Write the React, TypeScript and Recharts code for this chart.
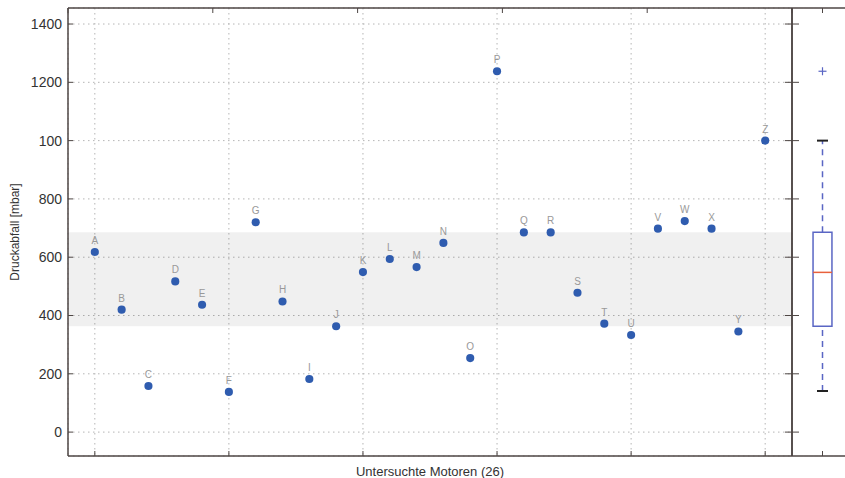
import React from 'react';
import {
  ComposedChart,
  Scatter,
  XAxis,
  YAxis,
  ZAxis,
  CartesianGrid,
  ReferenceArea,
  ReferenceLine,
  LabelList,
  Label,
} from 'recharts';

const motorNames = ['A', 'B', 'C', 'D', 'E', 'F', 'G', 'H', 'I', 'J', 'K', 'L', 'M', 'N', 'O', 'P', 'Q', 'R', 'S', 'T', 'U', 'V', 'W', 'X', 'Y', 'Z'];
const druckabfall = [618, 420, 158, 517, 437, 138, 720, 448, 182, 363, 549, 594, 566, 649, 254, 1238, 685, 685, 478, 372, 333, 698, 724, 698, 345, 1000];
const yTicks = [0, 200, 400, 600, 800, 1000, 1200, 1400];
const yTickLabels = ['0', '200', '400', '600', '800', '100', '1200', '1400'];
const xGridTicks = [0, 5, 10, 15, 20, 25];
const yDomain = [-82, 1455];
const xDomain = [-1, 26];

const bandLow = 363;
const bandHigh = 686;
const boxQ1 = 363;
const boxMedian = 548;
const boxQ3 = 686;
const whiskerLow = 141;
const whiskerHigh = 1000;
const boxOutliers = [1238];

const rows = motorNames.map((name, i) => ({ idx: i, value: druckabfall[i], name }));
const outlierRows = boxOutliers.map((v) => ({ bx: 1, by: v }));

const axisColor = '#4e4644';
const textColor = '#333333';
const pointColor = '#2f5caf';
const boxColor = '#5a66c4';
const font = '"Liberation Sans", Arial, sans-serif';

const fmtY = (v: number) => {
  const i = yTicks.indexOf(v);
  return i >= 0 ? yTickLabels[i] : String(v);
};
const blank = () => '';

const axisLineStyle = { stroke: axisColor, strokeWidth: 1.5 };
const tickLineStyle = { stroke: axisColor, strokeWidth: 1 };

export default function App() {
  return (
    <div style={{ position: 'absolute', left: 0, top: 0, width: 845, height: 478, overflow: 'hidden', background: '#fff', fontFamily: font }}>
      <div style={{ position: 'absolute', left: 0, top: 0 }}>
        <ComposedChart width={800} height={478} margin={{ top: 8, right: 8, bottom: 0, left: 0 }} data={rows}>
          <ReferenceArea y1={bandLow} y2={bandHigh} fill="#000" fillOpacity={0.06} stroke="none" ifOverflow="hidden" />
          <CartesianGrid stroke="#b5b5b5" strokeDasharray="1.5 3.5" strokeWidth={1} />
          <XAxis
            type="number"
            dataKey="idx"
            domain={xDomain}
            ticks={xGridTicks}
            allowDataOverflow
            height={22}
            tickSize={-5}
            tickFormatter={blank}
            axisLine={axisLineStyle}
            tickLine={tickLineStyle}
          >
            <Label value="Untersuchte Motoren (26)" position="insideBottom" offset={2} fill={textColor} fontSize={13} fontFamily={font} />
          </XAxis>
          <XAxis
            xAxisId="top"
            orientation="top"
            mirror
            type="number"
            domain={xDomain}
            ticks={xGridTicks}
            allowDataOverflow
            height={10}
            tickSize={5}
            tickFormatter={blank}
            axisLine={axisLineStyle}
            tickLine={tickLineStyle}
          />
          <YAxis
            type="number"
            dataKey="value"
            domain={yDomain}
            ticks={yTicks}
            allowDataOverflow
            width={68}
            tickSize={-5}
            tickMargin={11}
            tickFormatter={fmtY}
            tick={{ fill: textColor, fontSize: 14, fontFamily: font }}
            axisLine={axisLineStyle}
            tickLine={tickLineStyle}
          >
            <Label
              value="Druckabfall [mbar]"
              angle={-90}
              position="insideLeft"
              offset={15}
              fill={textColor}
              fontSize={12}
              fontFamily={font}
              style={{ textAnchor: 'middle' }}
            />
          </YAxis>
          <YAxis
            yAxisId="right"
            orientation="right"
            mirror
            type="number"
            domain={yDomain}
            ticks={yTicks}
            allowDataOverflow
            width={10}
            tickSize={7}
            tickFormatter={blank}
            axisLine={axisLineStyle}
            tickLine={tickLineStyle}
          />
          <ZAxis range={[52, 52]} />
          <Scatter data={rows} dataKey="value" fill={pointColor} isAnimationActive={false}>
            <LabelList dataKey="name" position="top" offset={4} fill="#999999" fontSize={10} fontFamily={font} />
          </Scatter>
        </ComposedChart>
      </div>
      <div style={{ position: 'absolute', left: 785, top: 0 }}>
        <ComposedChart width={68} height={478} margin={{ top: 8, right: 0, bottom: 0, left: 7 }} data={outlierRows}>
          <XAxis
            type="number"
            dataKey="bx"
            domain={[0, 2]}
            ticks={[1]}
            allowDataOverflow
            height={22}
            tickSize={-5}
            tickFormatter={blank}
            axisLine={axisLineStyle}
            tickLine={tickLineStyle}
          />
          <XAxis
            xAxisId="top"
            orientation="top"
            mirror
            type="number"
            domain={[0, 2]}
            ticks={[1]}
            allowDataOverflow
            height={10}
            tickSize={5}
            tickFormatter={blank}
            axisLine={axisLineStyle}
            tickLine={tickLineStyle}
          />
          <YAxis
            type="number"
            dataKey="by"
            mirror
            domain={yDomain}
            ticks={yTicks}
            allowDataOverflow
            width={10}
            tickSize={7}
            tickFormatter={blank}
            axisLine={axisLineStyle}
            tickLine={tickLineStyle}
          />
          <ReferenceLine
            segment={[{ x: 1, y: boxQ3 }, { x: 1, y: whiskerHigh }]}
            stroke={boxColor}
            strokeWidth={1.5}
            strokeDasharray="6 5"
          />
          <ReferenceLine
            segment={[{ x: 1, y: whiskerLow }, { x: 1, y: boxQ1 }]}
            stroke={boxColor}
            strokeWidth={1.5}
            strokeDasharray="6 5"
          />
          <ReferenceArea x1={0.69} x2={1.31} y1={boxQ1} y2={boxQ3} fill="#fff" fillOpacity={1} stroke={boxColor} strokeWidth={1.5} />
          <ReferenceLine segment={[{ x: 0.69, y: boxMedian }, { x: 1.31, y: boxMedian }]} stroke="#e8613c" strokeWidth={1.5} />
          <ReferenceLine segment={[{ x: 0.82, y: whiskerHigh }, { x: 1.18, y: whiskerHigh }]} stroke="#222" strokeWidth={2} />
          <ReferenceLine segment={[{ x: 0.82, y: whiskerLow }, { x: 1.18, y: whiskerLow }]} stroke="#222" strokeWidth={2} />
          <Scatter
            data={outlierRows}
            dataKey="by"
            isAnimationActive={false}
            shape={(p: any) => (
              <g>
                <line x1={p.cx - 4} x2={p.cx + 4} y1={p.cy} y2={p.cy} stroke={boxColor} strokeWidth={1.2} />
                <line x1={p.cx} x2={p.cx} y1={p.cy - 4} y2={p.cy + 4} stroke={boxColor} strokeWidth={1.2} />
              </g>
            )}
          />
        </ComposedChart>
      </div>
    </div>
  );
}
